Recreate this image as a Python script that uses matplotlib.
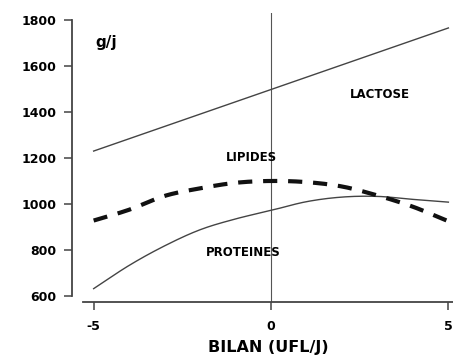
import numpy as np
import matplotlib
matplotlib.use("Agg")
import matplotlib.pyplot as plt

# Energy balance (UFL/day) and milk component output (g/day)
bilan = [-5, -4, -3, -2, -1, 0, 1, 2, 3, 4, 5]
lipides = [928, 975, 1035, 1068, 1092, 1100, 1095, 1076, 1037, 988, 925]
proteines = [632, 733, 818, 888, 935, 972, 1010, 1030, 1033, 1020, 1008]
lactose_x = [-5, 5]
lactose = [1230, 1765]

y_ticks = [600, 800, 1000, 1200, 1400, 1600, 1800]
x_ticks = [-5, 0, 5]


def smooth(xs, ys, n=20):
    """Catmull-Rom curve through the given points, for drawing only."""
    xs = np.asarray(xs, float)
    ys = np.asarray(ys, float)
    px = np.concatenate([[2 * xs[0] - xs[1]], xs, [2 * xs[-1] - xs[-2]]])
    py = np.concatenate([[2 * ys[0] - ys[1]], ys, [2 * ys[-1] - ys[-2]]])
    outx, outy = [], []
    t = np.linspace(0, 1, n, endpoint=False)
    for i in range(1, len(px) - 2):
        for arr, out in ((px, outx), (py, outy)):
            p0, p1, p2, p3 = arr[i - 1], arr[i], arr[i + 1], arr[i + 2]
            out.extend(0.5 * ((2 * p1) + (-p0 + p2) * t
                              + (2 * p0 - 5 * p1 + 4 * p2 - p3) * t ** 2
                              + (-p0 + 3 * p1 - 3 * p2 + p3) * t ** 3))
    outx.append(xs[-1])
    outy.append(ys[-1])
    return np.array(outx), np.array(outy)


W, H = 453, 358
fig = plt.figure(figsize=(W / 100, H / 100), dpi=100)
ax = fig.add_axes([83 / W, (H - 302) / H, (453 - 83) / W, (302 - 13) / H])

ax.set_xlim(-5.30, 5.13)
ax.set_ylim(574, 1830)

line_col = "#444444"

# vertical reference at zero balance
ax.axvline(0, color="#555555", lw=0.8, zorder=1)

ax.plot(lactose_x, lactose, color=line_col, lw=1.0, zorder=2)
sx, sy = smooth(bilan, proteines)
ax.plot(sx, sy, color=line_col, lw=1.0, zorder=2)
sx, sy = smooth(bilan, lipides)
ax.plot(sx, sy, color="#111111", lw=3.0, dashes=(3.4, 2.6),
        dash_capstyle="butt", zorder=3)

# axes styling
for s in ("top", "right"):
    ax.spines[s].set_visible(False)
ax.spines["left"].set_position(("outward", 8))
ax.spines["left"].set_bounds(600, 1800)
for s in ("left", "bottom"):
    ax.spines[s].set_linewidth(1.3)
    ax.spines[s].set_color("#444444")

ax.set_yticks(y_ticks)
ax.set_xticks(x_ticks)
ax.set_xticklabels(["-5", "0", "5"])
ax.tick_params(axis="both", direction="out", length=6, width=1.1,
               color="#444444", labelsize=9, pad=5)
ax.tick_params(axis="x", pad=7)
for lab in ax.get_xticklabels() + ax.get_yticklabels():
    lab.set_fontweight("heavy")

ax.set_xlabel("BILAN (UFL/J)", fontsize=11.5, fontweight="heavy", labelpad=5)

ax.text(-4.95, 1700, "g/j", fontsize=11, fontweight="heavy",
        ha="left", va="center")
ax.text(3.07, 1474, "LACTOSE", fontsize=8.5, fontweight="heavy",
        ha="center", va="center")
ax.text(-0.56, 1204, "LIPIDES", fontsize=8.5, fontweight="heavy",
        ha="center", va="center")
ax.text(-0.79, 791, "PROTEINES", fontsize=8.5, fontweight="heavy",
        ha="center", va="center")

fig.savefig("out.png", dpi=100)
